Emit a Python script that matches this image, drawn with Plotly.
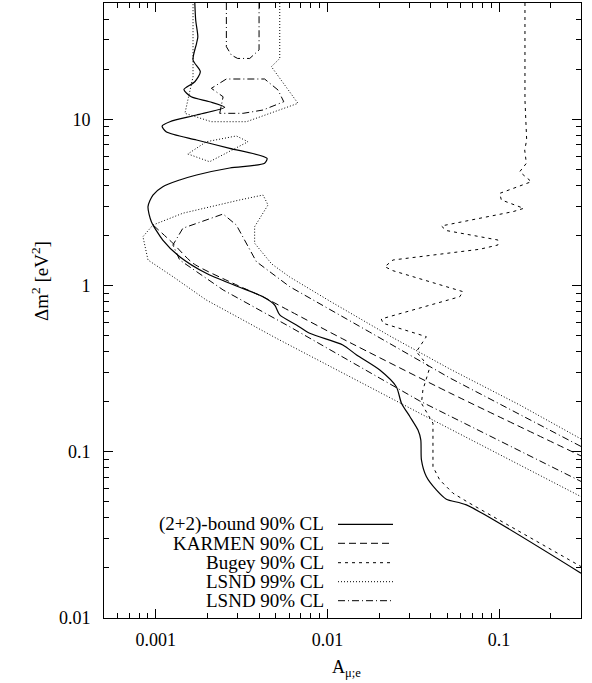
import plotly.graph_objects as go

# ---------------- data ----------------
# (2+2)-bound 90% CL  (solid)
bound_x = [0.00169, 0.00171, 0.00176, 0.00173, 0.00165, 0.00182, 0.00169, 0.00146, 0.00161,
           0.00206, 0.00252, 0.00173, 0.00121, 0.00109, 0.00115, 0.00173, 0.00270, 0.00445,
           0.00431, 0.00270, 0.00173, 0.00138, 0.00110, 0.000964, 0.000902, 0.000944, 0.00110,
           0.00138, 0.00197, 0.00295, 0.00422, 0.00493, 0.00528, 0.0066, 0.00789, 0.0123,
           0.0148, 0.0202, 0.0252, 0.0270, 0.0302, 0.0337, 0.0350, 0.0353, 0.0377, 0.0431,
           0.0493, 0.0645, 0.3]
bound_y = [50, 39.5, 31.3, 28.6, 22.7, 19.3, 16.8, 15.1, 13.65,
           12.74, 11.79, 10.6, 9.66, 9.10, 8.41, 7.50, 6.68, 5.82,
           5.43, 5.09, 4.62, 4.31, 3.93, 3.50, 2.98, 2.42, 1.877,
           1.49, 1.184, 0.993, 0.856, 0.763, 0.665, 0.579, 0.516, 0.439,
           0.382, 0.310, 0.246, 0.196, 0.163, 0.135, 0.118, 0.0893, 0.0709, 0.0589,
           0.0518, 0.0479, 0.0186]

# KARMEN 90% CL (dashed)
karmen_x = [0.00097, 0.00126, 0.00165, 0.00282, 0.00422, 0.00603, 0.0123, 0.0516, 0.3]
karmen_y = [2.30, 1.794, 1.36, 1.031, 0.853, 0.703, 0.477, 0.226, 0.0944]

# Bugey 90% CL (short dashes)
bugey_x = [0.1415, 0.1415, 0.1448, 0.1410, 0.1442, 0.1318, 0.1542, 0.1008, 0.1031, 0.1391,
           0.1205, 0.0461, 0.0493, 0.0985, 0.0985, 0.0771, 0.0241, 0.0216, 0.0241, 0.0616,
           0.0590, 0.0206, 0.0211, 0.0377, 0.0330, 0.0394, 0.0360, 0.0353, 0.0412, 0.0412,
           0.0451, 0.0539, 0.0674, 0.3]
bugey_y = [50, 13.05, 7.50, 6.53, 5.43, 4.83, 4.21, 3.58, 3.27, 2.91,
           2.78, 2.28, 2.14, 1.877, 1.752, 1.651, 1.423, 1.297, 1.227, 0.918,
           0.856, 0.629, 0.5925, 0.492, 0.400, 0.319, 0.2353, 0.1957, 0.1484, 0.0813,
           0.0677, 0.0563, 0.049, 0.0204]

# LSND 99% CL (dotted) -- three pieces
lsnd99_top_x = [0.00528, 0.00528, 0.00472, 0.00674, 0.00338, 0.00211, 0.00148, 0.00165, 0.00165]
lsnd99_top_y = [50, 23.2, 20.7, 12.46, 9.66, 9.66, 10.85, 18.0, 50]
lsnd99_isl_x = [0.00154, 0.00206, 0.00345, 0.00295, 0.00197, 0.00154]
lsnd99_isl_y = [6.18, 5.55, 7.32, 7.93, 7.32, 6.18]
lsnd99_low_x = [0.3, 0.1318, 0.0516, 0.0231, 0.0103, 0.00603, 0.00474, 0.00414, 0.00377,
                0.00377, 0.00451, 0.00422, 0.00309, 0.00144, 0.000964, 0.000843, 0.000902,
                0.00126, 0.00197, 0.00309, 0.00505, 0.0379, 0.3]
lsnd99_low_y = [0.1194, 0.1912, 0.3148, 0.497, 0.807, 1.125, 1.347, 1.59, 1.794,
                2.257, 3.05, 3.50, 3.27, 2.72, 2.31, 1.966, 1.423,
                1.13, 0.818, 0.635, 0.481, 0.162, 0.0537]

# LSND 90% CL (dash-dot) -- three pieces
lsnd90_top_x = [0.00258, 0.00258, 0.00276, 0.00300, 0.00353, 0.00400, 0.00400]
lsnd90_top_y = [50, 27.3, 24.3, 23.2, 23.2, 26.1, 50]
lsnd90_isl_x = [0.00236, 0.00241, 0.00247, 0.00211, 0.00258, 0.00431, 0.00516, 0.00557,
                0.00422, 0.00323, 0.00236]
lsnd90_isl_y = [10.85, 11.89, 13.65, 15.34, 17.45, 17.45, 14.98, 12.74, 11.36, 10.85, 10.85]
lsnd90_low_x = [0.3, 0.0516, 0.0176, 0.00603, 0.00386, 0.00338, 0.00295, 0.00247, 0.00144,
                0.00126, 0.00138, 0.00247, 0.00603, 0.0345, 0.3]
lsnd90_low_y = [0.1076, 0.278, 0.525, 0.984, 1.39, 1.794, 2.31, 2.69, 2.21,
                1.752, 1.423, 0.940, 0.565, 0.202, 0.0663]

legend_labels = ["(2+2)-bound 90% CL", "KARMEN 90% CL", "Bugey 90% CL",
                 "LSND 99% CL", "LSND 90% CL"]

x_major = [0.001, 0.01, 0.1]
x_major_text = ["0.001", "0.01", "0.1"]
x_minor = [0.0005, 0.0006, 0.0007, 0.0008, 0.0009, 0.002, 0.003, 0.004, 0.005, 0.006,
           0.007, 0.008, 0.009, 0.02, 0.03, 0.04, 0.05, 0.06, 0.07, 0.08, 0.09, 0.2, 0.3]
y_major = [0.01, 0.1, 1, 10]
y_major_text = ["0.01", "0.1", "1", "10"]
y_minor = [0.02, 0.03, 0.04, 0.05, 0.06, 0.07, 0.08, 0.09, 0.2, 0.3, 0.4, 0.5, 0.6, 0.7,
           0.8, 0.9, 2, 3, 4, 5, 6, 7, 8, 9, 20, 30, 40, 50]

# ---------------- styles ----------------
FONT = "Liberation Serif"
FS = 18
FS_LEG = 19
S_SOLID = dict(color="black", width=1.2, dash="solid")
S_KARMEN = dict(color="black", width=1, dash="7px,4px")
S_BUGEY = dict(color="black", width=1, dash="3px,4px")
S_L99 = dict(color="black", width=1, dash="1px,2px")
S_L90 = dict(color="black", width=1, dash="7px,3px,1px,3px")

fig = go.Figure()


def add(x, y, style, shape="linear"):
    fig.add_trace(go.Scatter(x=x, y=y, mode="lines",
                             line=dict(shape=shape, smoothing=0.7 if shape == "spline" else None, **style),
                             showlegend=False, hoverinfo="skip"))


add(lsnd99_top_x, lsnd99_top_y, S_L99)
add(lsnd99_isl_x, lsnd99_isl_y, S_L99)
add(lsnd99_low_x, lsnd99_low_y, S_L99)
add(lsnd90_top_x, lsnd90_top_y, S_L90)
add(lsnd90_isl_x, lsnd90_isl_y, S_L90)
add(lsnd90_low_x, lsnd90_low_y, S_L90)
add(bugey_x, bugey_y, S_BUGEY)
add(karmen_x, karmen_y, S_KARMEN, "spline")
add(bound_x, bound_y, S_SOLID, "spline")

# ---------------- layout ----------------
W, H = 592, 683
L, R, T, B = 104, 11, 3, 65
pw, ph = W - L - R, H - T - B


def px(xp):
    return (xp - L) / pw


def py(yp):
    return (H - B - yp) / ph


axis_common = dict(
    type="log", showline=True, linecolor="black", linewidth=1, mirror="allticks",
    ticks="inside", ticklen=9, tickwidth=1, tickcolor="black",
    showgrid=False, zeroline=False, automargin=False,
    tickfont=dict(family=FONT, size=FS, color="black"),
)

fig.update_layout(
    width=W, height=H,
    margin=dict(l=L, r=R, t=T, b=B, pad=0),
    paper_bgcolor="white", plot_bgcolor="white",
    font=dict(family=FONT, size=FS, color="black"),
    xaxis=dict(range=[-3.30103, -0.522879], tickmode="array", tickvals=x_major,
               ticktext=x_major_text, ticklabelstandoff=5,
               minor=dict(tickvals=x_minor, ticks="inside", ticklen=5, tickcolor="black",
                          showgrid=False),
               **axis_common),
    yaxis=dict(range=[-2, 1.69897], tickmode="array", tickvals=y_major,
               ticktext=y_major_text, ticklabelstandoff=9,
               minor=dict(tickvals=y_minor, ticks="inside", ticklen=5, tickcolor="black",
                          showgrid=False),
               **axis_common),
    showlegend=False,
)

# axis titles
fig.add_annotation(x=px(346), y=py(655), xref="paper", yref="paper", showarrow=False,
                   xanchor="center", yanchor="top",
                   text="A<sub>μ;e</sub>", font=dict(family=FONT, size=FS))
fig.add_annotation(x=px(26), y=py(281), xref="paper", yref="paper", showarrow=False,
                   text="Δm<sup>2</sup> [eV<sup>2</sup>]", textangle=-90,
                   font=dict(family=FONT, size=FS_LEG))

# legend drawn in gnuplot style (text right-aligned, sample to its right)
row_y = [524.3, 543.3, 562.7, 581.7, 600.7]
styles = [S_SOLID, S_KARMEN, S_BUGEY, S_L99, S_L90]
for lab, yy, st in zip(legend_labels, row_y, styles):
    fig.add_annotation(x=px(326), y=py(yy), xref="paper", yref="paper", showarrow=False,
                       xanchor="right", yanchor="middle", text=lab,
                       font=dict(family=FONT, size=FS_LEG))
    fig.add_shape(type="line", xref="paper", yref="paper",
                  x0=px(338), x1=px(393), y0=py(yy), y1=py(yy), line=st)

fig.write_html("out.html", config={"displayModeBar": False},
               post_script="document.body.style.margin='0';document.body.style.overflow='hidden';")
